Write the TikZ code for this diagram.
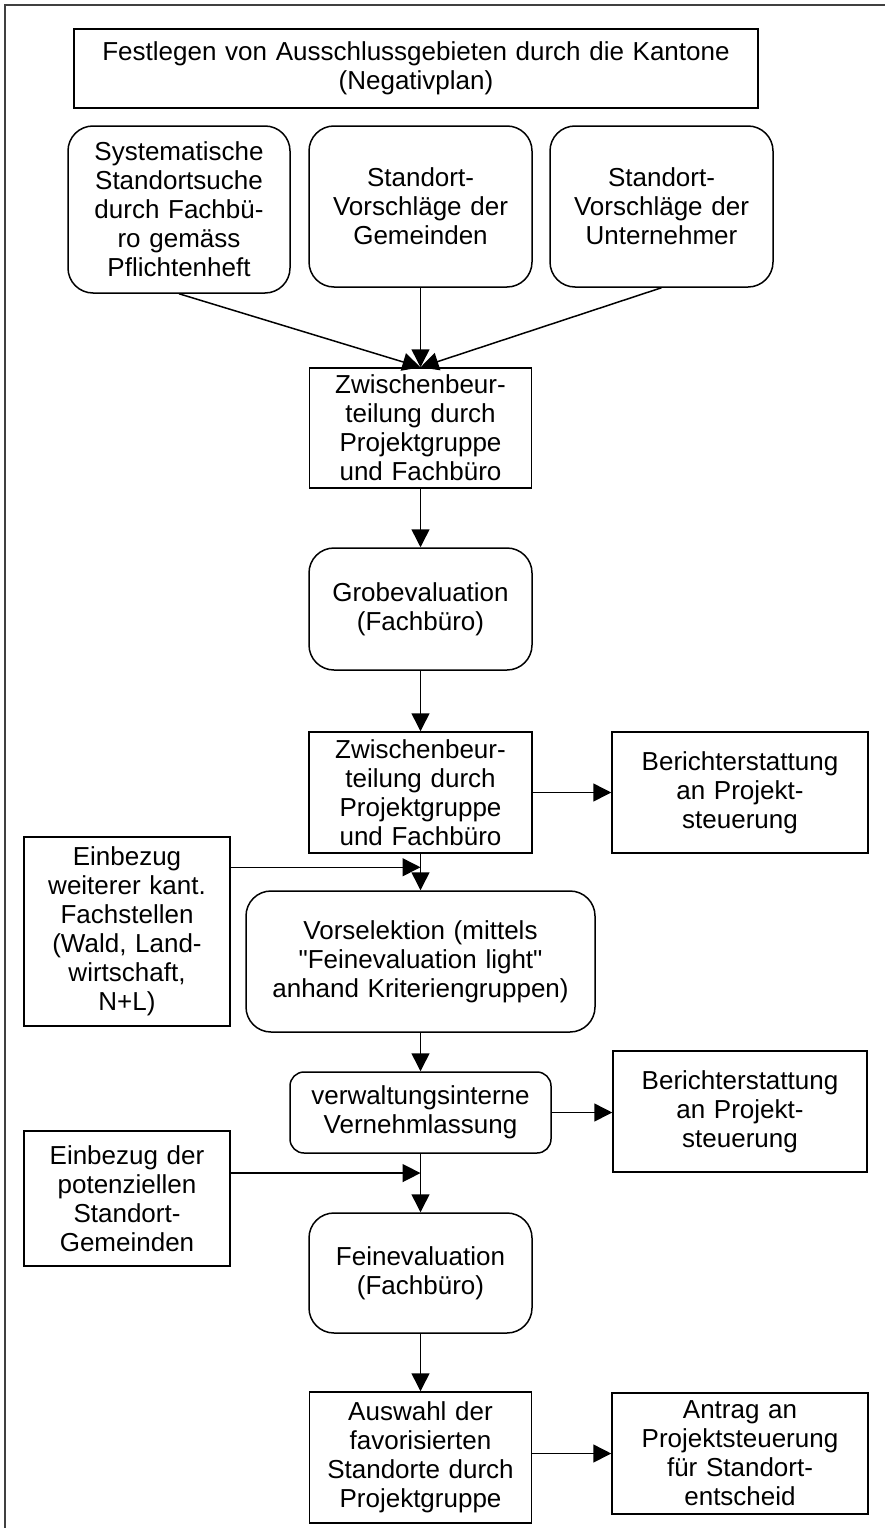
\documentclass[tikz,border=0pt]{standalone}
\usepackage{fontspec}
\setmainfont{Liberation Sans}
\usetikzlibrary{arrows.meta, calc}

\begin{document}
\begin{tikzpicture}[x=1pt, y=-1pt, line width=1.5pt,
  box/.style={draw, inner sep=0pt, align=center, font=\fontsize{26}{29}\selectfont},
  rbox/.style={box, rounded corners=25pt},
  pfeil/.style={-{Triangle[length=18pt, width=18pt]}}]
  \useasboundingbox (0,0) rectangle (885,1528);
  \pgfmathsetmacro{\lx}{127}
  \pgfmathsetmacro{\mx}{420.5}
  \pgfmathsetmacro{\rx}{740}

  % Rahmen
  \draw [line width=1.8pt, draw=black!75] (5,1528) -- (5,5) -- (885,5);

  % Negativplan
  \node [box, minimum width=684pt, minimum height=79pt, text width=670pt] (negativ) at (416,68.5)
    {Festlegen von Ausschlussgebieten durch die Kantone\\(Negativplan)};

  % Vorschlaege
  \node [rbox, minimum width=222pt, minimum height=167pt, text width=214pt] (suche) at (179,209.5)
    {Systematische\\Standortsuche\\durch Fachbü-\\ro gemäss\\Pflichtenheft};
  \node [rbox, minimum width=223pt, minimum height=161pt, text width=215pt] (gemeinden) at (\mx,206.5)
    {Standort-\\Vorschläge der\\Gemeinden};
  \node [rbox, minimum width=223pt, minimum height=161pt, text width=215pt] (unternehmer) at (661.5,206.5)
    {Standort-\\Vorschläge der\\Unternehmer};

  % Hauptstrang
  \node [box, minimum width=222pt, minimum height=120pt, text width=214pt] (zwischen1) at (\mx,428)
    {Zwischenbeur-\\teilung durch\\Projektgruppe\\und Fachbüro};
  \node [rbox, minimum width=223pt, minimum height=122pt, text width=215pt] (grob) at (\mx,609)
    {Grobevaluation\\(Fachbüro)};
  \node [box, minimum width=223pt, minimum height=121pt, text width=215pt] (zwischen2) at (\mx,792.5)
    {Zwischenbeur-\\teilung durch\\Projektgruppe\\und Fachbüro};
  \node [rbox, minimum width=349pt, minimum height=141pt, text width=340pt] (vorselektion) at (\mx,961.5)
    {Vorselektion (mittels\\\textquotedbl Feinevaluation light\textquotedbl\\anhand Kriteriengruppen)};
  \node [rbox, minimum width=261pt, minimum height=81pt, text width=252pt, rounded corners=14pt] (vernehm) at (\mx,1112.5)
    {verwaltungsinterne\\Vernehmlassung};
  \node [rbox, minimum width=223pt, minimum height=120pt, text width=215pt] (fein) at (\mx,1273)
    {Feinevaluation\\(Fachbüro)};
  \node [box, minimum width=222pt, minimum height=131pt, text width=214pt] (auswahl) at (\mx,1457.5)
    {Auswahl der\\favorisierten\\Standorte durch\\Projektgruppe};

  % rechts
  \node [box, minimum width=256pt, minimum height=121pt, text width=248pt] (bericht1) at (\rx,792.5)
    {Berichterstattung\\an Projekt-\\steuerung};
  \node [box, minimum width=254pt, minimum height=121pt, text width=246pt] (bericht2) at (\rx,1111.5)
    {Berichterstattung\\an Projekt-\\steuerung};
  \node [box, minimum width=256pt, minimum height=121pt, text width=248pt] (antrag) at (\rx,1453.5)
    {Antrag an\\Projektsteuerung\\für Standort-\\entscheid};

  % links
  \node [box, minimum width=206pt, minimum height=189pt, text width=198pt] (fachstellen) at (\lx,931.5)
    {Einbezug\\weiterer kant.\\Fachstellen\\(Wald, Land-\\wirtschaft,\\N+L)};
  \node [box, minimum width=206pt, minimum height=135pt, text width=198pt] (standortgem) at (\lx,1198.5)
    {Einbezug der\\potenziellen\\Standort-\\Gemeinden};

  \coordinate (j1) at ($(zwischen2.south)!0.37!(vorselektion.north)$);
  \coordinate (j2) at ($(vernehm.south)!0.33!(fein.north)$);

  % Pfeile
  \draw [pfeil] (suche.south) -- (zwischen1.north);
  \draw [pfeil] (gemeinden.south) -- (zwischen1.north);
  \draw [pfeil] (unternehmer.south) -- (zwischen1.north);
  \draw [pfeil] (zwischen1.south) -- (grob.north);
  \draw [pfeil] (grob.south) -- (zwischen2.north);
  \draw [pfeil] (zwischen2.east) -- (bericht1.west);
  \draw [pfeil] (zwischen2.south) -- (vorselektion.north);
  \draw [pfeil] (fachstellen.east |- j1) -- (j1);
  \draw [pfeil] (vorselektion.south) -- (vernehm.north);
  \draw [pfeil] (vernehm.east) -- (vernehm.east -| bericht2.west);
  \draw [pfeil] (vernehm.south) -- (fein.north);
  \draw [pfeil] (standortgem.east |- j2) -- (j2);
  \draw [pfeil] (fein.south) -- (auswahl.north);
  \draw [pfeil] (auswahl.east |- antrag.west) -- (antrag.west);
\end{tikzpicture}
\end{document}
